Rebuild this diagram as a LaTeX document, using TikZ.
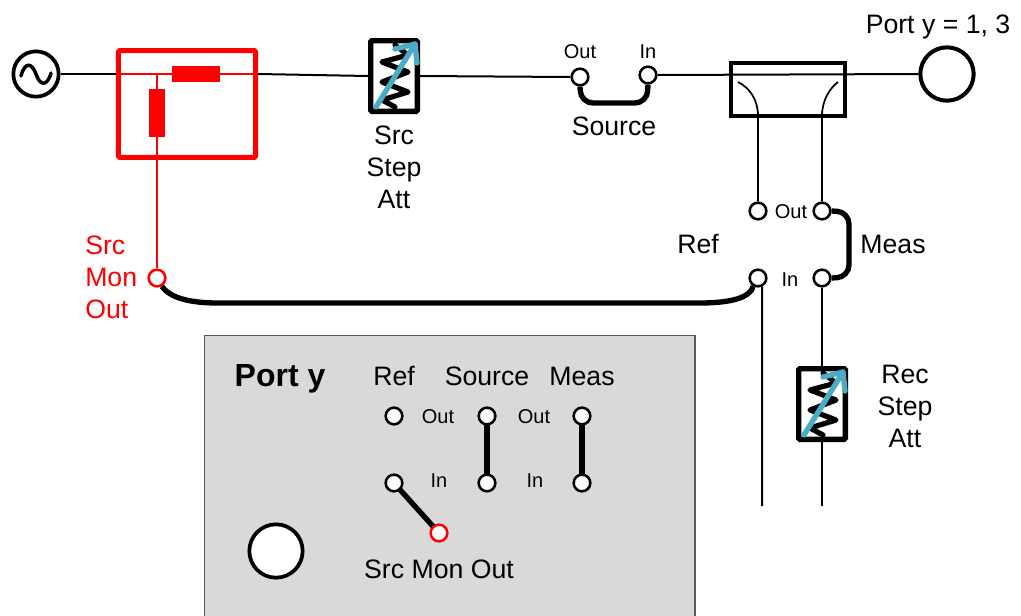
\documentclass[tikz,border=0pt]{standalone}
\usepackage{fontspec}
\setmainfont{Liberation Sans}
\usepackage{xcolor}
\usetikzlibrary{positioning, calc}
\definecolor{arrowblue}{HTML}{4BACC6}
\definecolor{panelgray}{HTML}{D9D9D9}
\definecolor{paneledge}{HTML}{595959}
\tikzset{
    labeltext/.style={inner sep=0pt, align=center, font=\fontsize{20}{24}\selectfont},
    smalltext/.style={inner sep=0pt, text height=10.5pt, text depth=0pt, font=\fontsize{15}{18}\selectfont},
    portdot/.style={circle, draw=black, fill=white, line width=1.9pt, minimum size=12.5pt, inner sep=0pt},
    reddot/.style={portdot, draw=red},
    wire/.style={line width=1.5pt, color=black},
    redwire/.style={line width=1.5pt, color=red},
    jumper/.style={line width=4pt, color=black, rounded corners=9pt},
    resistor/.style={rectangle, draw=none, fill=red, inner sep=0pt},
    attsym/.pic={
        \node (-box) [rectangle, draw=black, fill=white, line width=4pt, rounded corners=1pt, minimum width=35pt, minimum height=53pt, inner sep=0pt] at (0,0) {};
        \draw [line width=3.9pt, line cap=round, line join=round] (1,-31) -- (14,-21) -- (-12,-14) -- (14,-4) -- (-12,6) -- (14,16) -- (-12,24) -- (1,31);
        \draw [line width=4pt, color=arrowblue, line cap=round] (-18,31) -- (21,-32);
        \draw [line width=4pt, color=arrowblue, line cap=round, line join=round] (1,-27) -- (21,-32) -- (23,-13);
    }
}
\begin{document}
\begin{tikzpicture}[x=0.75pt, y=-0.75pt]
    \useasboundingbox (0,0) rectangle (1021,615);

    \node (panel) [rectangle, draw=paneledge, fill=panelgray, line width=1.2pt, minimum width=368pt, minimum height=215pt, inner sep=0pt] at (449.8,479) {};

    \node (sig) [circle, draw=black, fill=white, line width=2.8pt, minimum size=34pt, inner sep=0pt] at (36,74) {};
    \node (monbox) [rectangle, draw=red, line width=3.7pt, rounded corners=1pt, minimum width=103pt, minimum height=80pt, inner sep=0pt] at (187,104) {};
    \node (rser) [resistor, minimum width=35.5pt, minimum height=12.5pt] at (196,74) {};
    \node (rshunt) [resistor, minimum width=12.5pt, minimum height=35.5pt] at (157,113) {};
    \coordinate (montee) at (157,74);
    \pic (srcatt) at (394,76) {attsym};
    \node (srcout) [portdot] at (580,77) {};
    \node (srcin) [portdot] at (648,75) {};
    \node (coupler) [rectangle, draw=black, line width=2.9pt, minimum width=85pt, minimum height=40pt, inner sep=0pt] at (788,89.5) {};
    \node (port) [circle, draw=black, line width=3pt, minimum size=40pt, inner sep=0pt] at (947,74) {};
    \coordinate (cplleft) at (738,82);
    \coordinate (cplright) at (838,82);
    \node (refout) [portdot] at (758,211) {};
    \node (measout) [portdot] at (822,211) {};
    \node (refin) [portdot] at (758,278) {};
    \node (measin) [portdot] at (822,278) {};
    \node (monout) [reddot] at (157,278) {};
    \pic (recatt) at (822,404) {attsym};
    \coordinate (refend) at (762,506);
    \coordinate (measend) at (822,506);

    \node (l_port) [labeltext] at (938,27) {Port y = 1, 3};
    \node (l_srcatt) [labeltext, below=9pt of srcatt-box] {Src\\Step\\Att};
    \node (l_srcout) [smalltext, above=6.75pt of srcout] {Out};
    \node (l_srcin) [smalltext, above=5.25pt of srcin] {In};
    \node (l_source) [labeltext] at (614,126) {Source};
    \node (l_out) [smalltext] at (791,211) {Out};
    \node (l_in) [smalltext] at (790,279) {In};
    \node (l_ref) [labeltext] at (698,244) {Ref};
    \node (l_meas) [labeltext] at (893,244) {Meas};
    \node (l_mon) [labeltext, align=left, text=red, anchor=west] at (85,277) {Src\\Mon\\Out};
    \node (l_recatt) [labeltext] at (905,406) {Rec\\Step\\Att};

    \draw [wire] (sig.east) -- (monbox.west |- sig);
    \draw [wire] (monbox.east |- sig) -- (srcatt-box.west);
    \draw [wire] (srcatt-box.east) -- (srcout.west);
    \draw [wire] (srcin.east) -- (port.west);
    \draw [redwire] (monbox.west |- sig) -- (monbox.east |- sig);
    \draw [redwire] (montee) -- (monout.north);
    \draw [jumper] (srcout.south) -- (581,103) -- (647,103) -- (srcin.south);
    \draw [wire, line width=1.3pt] (cplleft) .. controls (750,88) and (758,100) .. (758,116) -- (refout.north);
    \draw [wire, line width=1.3pt] (cplright) .. controls (830,88) and (822,100) .. (822,116) -- (measout.north);
    \draw [jumper] (measout.east) -- (849,212) -- (849,277) -- (measin.east);
    \draw [line width=4pt] (monout.-60) .. controls (170,298) and (190,303) .. (218,303) -- (700,303) .. controls (730,303) and (750,298) .. (refin.-120);
    \draw [wire] (refin.-65) -- (refend);
    \draw [wire] (measin.south) -- (recatt-box.north);
    \draw [wire] (recatt-box.south) -- (measend);

    \node (p_title) [inner sep=0pt, font=\fontsize{24}{28}\selectfont\bfseries] at (280,379) {Port y};
    \node (p_ref) [labeltext] at (394,376) {Ref};
    \node (p_source) [labeltext] at (487,376) {Source};
    \node (p_meas) [labeltext] at (582,376) {Meas};
    \node (p_out1) [smalltext] at (438,416) {Out};
    \node (p_out2) [smalltext] at (534,416) {Out};
    \node (p_in1) [smalltext] at (439,480) {In};
    \node (p_in2) [smalltext] at (535,480) {In};
    \node (p_monlabel) [labeltext] at (439,569) {Src Mon Out};
    \coordinate (p_refout) at (394,416);
    \coordinate (p_srcout) at (487,416);
    \coordinate (p_measout) at (582,416);
    \coordinate (p_refin) at (394,483);
    \coordinate (p_srcin) at (487,483);
    \coordinate (p_measin) at (582,483);
    \coordinate (p_mon) at (439,533);
    \draw [jumper] (p_srcout) -- (p_srcin);
    \draw [jumper] (p_measout) -- (p_measin);
    \draw [jumper] (p_refin) -- (p_mon);
    \node (d_refout) [portdot] at (p_refout) {};
    \node (d_srcout) [portdot] at (p_srcout) {};
    \node (d_measout) [portdot] at (p_measout) {};
    \node (d_refin) [portdot] at (p_refin) {};
    \node (d_srcin) [portdot] at (p_srcin) {};
    \node (d_measin) [portdot] at (p_measin) {};
    \node (d_mon) [reddot] at (p_mon) {};
    \node (p_port) [circle, draw=black, fill=white, line width=2.8pt, minimum size=40pt, inner sep=0pt] at (276,551) {};

    \draw [line width=2.6pt, line cap=round] (21,76) .. controls (25,61) and (32,63) .. (36,74) .. controls (40,86) and (47,87) .. (51,73);
\end{tikzpicture}
\end{document}
